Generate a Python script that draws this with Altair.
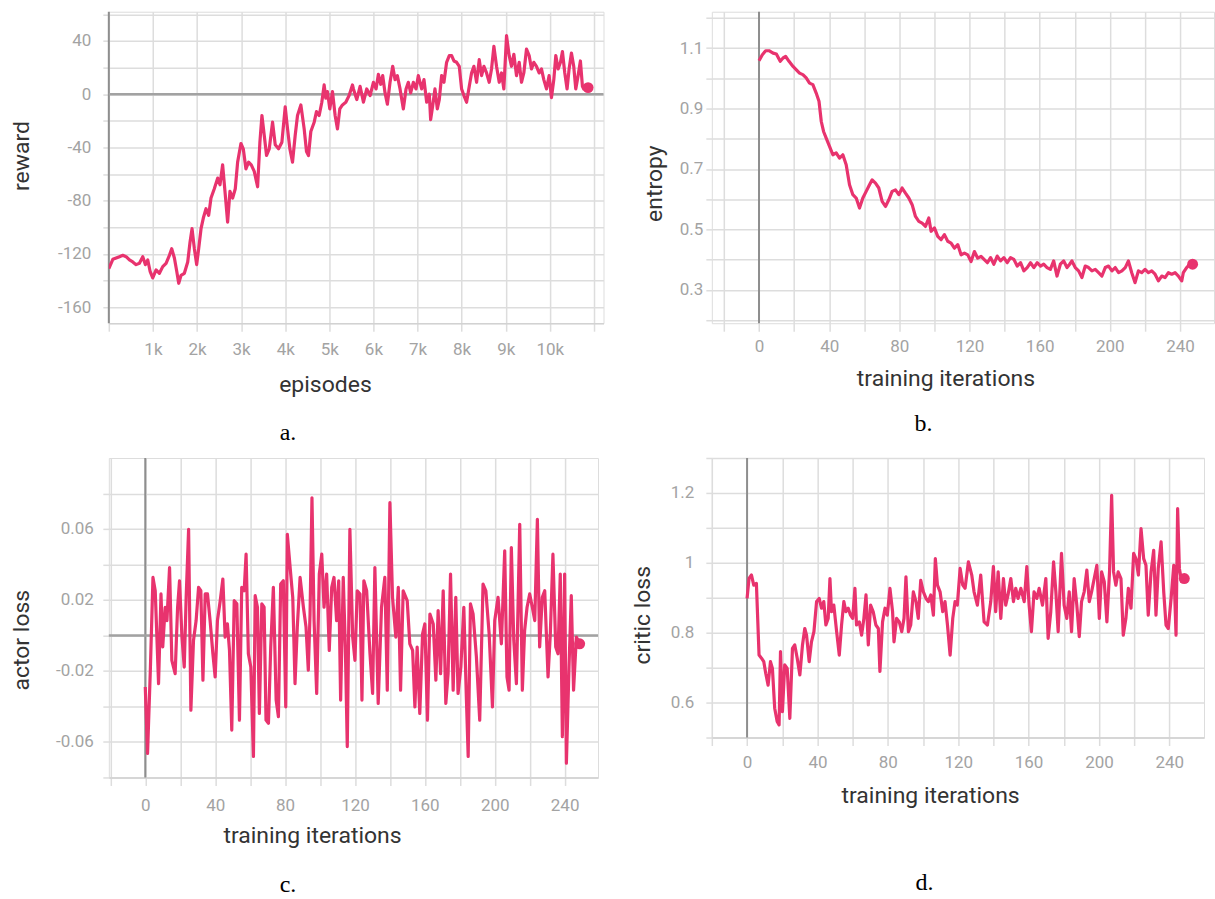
import altair as alt
import pandas as pd

# ---------------- data ----------------
# a. reward vs episodes
episodes = [0, 91, 166, 242, 317, 392, 468, 543, 619, 694, 770, 830, 883, 936, 996, 1072, 1147, 1223, 1298, 1374,
            1426, 1487, 1540, 1585, 1638, 1713, 1789, 1842, 1887, 1940, 1992, 2038, 2091, 2143, 2204, 2264, 2317,
            2392, 2468, 2521, 2581, 2642, 2694, 2747, 2808, 2868, 2921, 2996, 3049, 3109, 3170, 3230, 3298, 3374,
            3426, 3472, 3525, 3577, 3638, 3713, 3774, 3849, 3925, 4000, 4053, 4106, 4166, 4226, 4279, 4355, 4430,
            4483, 4528, 4581, 4657, 4709, 4770, 4830, 4883, 4921, 4958, 5011, 5072, 5132, 5185, 5238, 5298, 5374,
            5449, 5525, 5547, 5623, 5698, 5774, 5849, 5925, 6000, 6060, 6113, 6166, 6211, 6264, 6317, 6377, 6438,
            6491, 6543, 6604, 6679, 6740, 6792, 6845, 6906, 6966, 7019, 7094, 7147, 7208, 7268, 7298, 7343, 7396,
            7449, 7494, 7547, 7600, 7660, 7721, 7774, 7826, 7887, 7947, 8000, 8053, 8113, 8174, 8226, 8279, 8340,
            8400, 8453, 8506, 8566, 8626, 8679, 8732, 8792, 8853, 8906, 8958, 9019, 9079, 9132, 9185, 9245, 9306,
            9358, 9411, 9472, 9532, 9585, 9638, 9698, 9758, 9811, 9864, 9925, 9985, 10038, 10091, 10136, 10189,
            10242, 10287, 10340, 10392, 10438, 10491, 10543, 10589, 10642, 10694, 10740, 10770, 10830, 10868]
reward = [-131, -124, -123, -122, -121, -122, -124.5, -126, -128, -127, -122, -128, -124.5, -133, -138, -132, -134.5,
          -129.5, -127, -121, -116, -123, -133, -142, -136, -134.5, -126, -111, -101, -116, -128, -116, -101, -93,
          -86, -91, -78, -71, -63, -68, -53, -76, -96, -73, -78, -71, -51, -37, -41, -56, -51, -53, -58, -69.5, -36,
          -16, -31, -46, -41, -21, -38, -41, -36, -9.5, -26, -41, -51, -31, -16, -8, -26, -43, -46, -28, -21, -13,
          -16, -6, 7, -3, 2, -11, 2, -16, -26, -11, -8, -6, -1, 7, 4, -4, 6, -6, 4, -1, 9, 4, 15, 7.5, 14, 1, -7.5,
          9, 21, 11, 14, 4, -11, 4, 9, 1, 9, 4, 14, 4, 11, -6, 0, -19, -9, 4, -11, -4, 14, 9, 24, 29, 29, 25, 24,
          21, 4, -1, -6, 6, 16, 21, 9, 26, 14, 21, 16, 9, 19, 36, 21, 9, 16, 4, 44, 29, 21, 30, 14, 24, 9, 16, 34,
          29, 19, 24, 21, 16, 19, 11, 4, 14, -2.5, 11, 29, 19, 24, 32, 16, 4, 19, 31, 21, 4, 14, 25, 6, 4, 6, 5]

# b. entropy vs training iterations
ent_iter = [0, 1.9, 3.8, 5.7, 8, 9.9, 12.1, 13.7, 15.2, 17.1, 19.4, 21.3, 23.1, 25, 26.9, 28.8, 30.7, 32.6, 34.2,
            35.5, 36.8, 38.3, 40.2, 42.1, 44, 45.9, 47.8, 49.7, 51.6, 53.5, 55.4, 57.3, 59.2, 61.1, 63, 64.5, 66.4,
            68.3, 70.2, 72.1, 74, 75.9, 77.8, 79.7, 81.6, 83.5, 85.4, 87.3, 89.2, 91.1, 93, 94.9, 96.8, 98.1, 100,
            101.9, 103.8, 105.7, 107.6, 109.5, 111.4, 113.3, 115.2, 117.1, 119, 120.9, 122.8, 124.7, 126.6, 128.3,
            130.2, 132, 133.9, 135.8, 137.7, 139.6, 141.5, 143.4, 145.3, 147.2, 149.1, 151, 152.9, 154.8, 156.7,
            158.6, 160.5, 162.3, 164.2, 166.1, 168, 169.9, 171.8, 173.7, 175.6, 177.1, 178.4, 180.3, 182.2, 184.1,
            186, 187.9, 189.8, 191.7, 193.6, 195.5, 197.4, 199.3, 201.2, 203.1, 205, 206.9, 208.8, 210.6, 212.5,
            214.4, 216.3, 218.2, 220.1, 222, 223.9, 225.8, 227.7, 229.6, 231.5, 233.4, 235.3, 237.2, 239.1, 241,
            241.9, 243.8, 245.7, 247.2]
entropy = [1.058, 1.078, 1.091, 1.091, 1.083, 1.080, 1.056, 1.067, 1.072, 1.056, 1.039, 1.028, 1.017, 1.012, 1.001,
           0.984, 0.979, 0.951, 0.924, 0.857, 0.824, 0.802, 0.775, 0.747, 0.753, 0.736, 0.747, 0.714, 0.648, 0.615,
           0.604, 0.571, 0.604, 0.626, 0.648, 0.664, 0.653, 0.637, 0.593, 0.576, 0.598, 0.626, 0.631, 0.615, 0.637,
           0.620, 0.604, 0.582, 0.543, 0.527, 0.521, 0.510, 0.538, 0.494, 0.505, 0.477, 0.466, 0.483, 0.461, 0.455,
           0.438, 0.450, 0.416, 0.422, 0.416, 0.394, 0.427, 0.405, 0.411, 0.401, 0.390, 0.407, 0.385, 0.412, 0.396,
           0.407, 0.390, 0.407, 0.401, 0.379, 0.390, 0.363, 0.374, 0.390, 0.374, 0.390, 0.379, 0.385, 0.374, 0.368,
           0.396, 0.346, 0.385, 0.396, 0.374, 0.385, 0.396, 0.374, 0.363, 0.341, 0.379, 0.374, 0.363, 0.368, 0.357,
           0.346, 0.374, 0.379, 0.363, 0.374, 0.357, 0.363, 0.374, 0.396, 0.357, 0.324, 0.363, 0.357, 0.368, 0.357,
           0.363, 0.352, 0.330, 0.346, 0.341, 0.357, 0.352, 0.357, 0.346, 0.330, 0.357, 0.374, 0.385, 0.385]

# c. actor loss vs training iterations
act_iter = [0, 1.3, 2.9, 4.4, 5.7, 7.6, 9, 10, 11.4, 12.4, 13.9, 15.2, 17.1, 18.5, 19.6, 21, 22.3, 23.4, 24.8, 26.1,
            27.6, 29.1, 30.5, 31.8, 33, 34.3, 35.6, 37.1, 38.7, 40, 41.3, 42.9, 44.4, 45.7, 47, 48.2, 49.5, 50.9,
            52.4, 53.9, 55.2, 56.6, 57.7, 59, 60.4, 61.9, 62.9, 64.2, 65.3, 66.7, 68, 69.1, 70.5, 71.8, 73.3, 74.9,
            76.2, 77.5, 79, 80.4, 81.3, 82.9, 84.4, 85.7, 87, 88.6, 90.5, 92, 93.3, 94.3, 95.4, 96.6, 98.1, 99.6,
            101, 102.3, 103.8, 105.3, 106.7, 108, 109.5, 110.7, 111.8, 113.3, 114.5, 115.6, 117.1, 118.7, 120, 121.3,
            122.9, 124, 125.1, 126.7, 128.6, 130.1, 131.4, 133.3, 135.2, 137.1, 138.5, 140, 141.5, 143.4, 144.8,
            146.1, 147.6, 149.9, 151.4, 153, 154.3, 155.6, 157.1, 158.7, 160, 161.5, 162.9, 164.8, 166.3, 167.6, 169,
            170.5, 172, 173.3, 174.7, 176.2, 177.7, 179, 180.6, 182.3, 183.8, 184.8, 186.1, 187.6, 189.5, 191.4,
            193.3, 194.9, 196.8, 198.7, 200, 201.9, 203.8, 205.7, 207, 208.2, 209.5, 210.9, 212.4, 214.3, 215.8,
            217.1, 218.5, 220, 221.5, 222.9, 224.4, 225.7, 227.2, 228.6, 230.5, 231.8, 233.3, 234.9, 236.2, 237.5,
            238.7, 240, 241, 242.5, 243.8, 245.1, 246.7, 248.6]
actor_loss = [-0.0290, -0.0664, -0.0196, 0.0327, 0.0252, -0.0271, 0.0234, -0.0065, 0.0159, 0.0084, 0.0383, -0.0140,
              -0.0215, 0.0159, 0.0308, -0.0009, -0.0178, 0.0215, 0.0598, -0.0421, -0.0028, 0.0084, 0.0271, 0.0252,
              -0.0252, 0.0234, 0.0234, 0.0084, -0.0103, -0.0234, 0.0084, 0.0196, 0.0318, -0.0009, 0.0065, -0.0084,
              -0.0533, 0.0196, 0.0178, -0.0477, 0.0271, 0.0252, 0.0458, -0.0103, -0.0178, -0.0682, 0.0224, 0.0159,
              -0.0439, 0.0178, 0.0159, -0.0477, -0.0495, -0.0065, 0.0271, -0.0364, -0.0458, 0.0290, 0.0308, -0.0402,
              0.0570, 0.0383, 0.0215, -0.0271, 0.0047, 0.0327, 0.0159, 0.0047, -0.0196, 0.0121, 0.0776, 0.0084,
              -0.0327, 0.0346, 0.0458, 0.0159, 0.0346, -0.0084, 0.0271, 0.0327, 0.0084, 0.0308, -0.0364, 0.0327,
              -0.0065, -0.0626, 0.0598, -0.0009, -0.0140, 0.0252, 0.0234, -0.0364, 0.0308, 0.0252, -0.0103, -0.0327,
              0.0383, -0.0383, 0.0159, 0.0327, -0.0308, 0.0748, 0.0215, -0.0009, 0.0271, -0.0308, 0.0252, 0.0196,
              -0.0047, -0.0084, -0.0402, -0.0065, -0.0439, 0.0009, 0.0065, -0.0477, 0.0121, 0.0065, -0.0252, 0.0140,
              -0.0215, 0.0252, -0.0383, -0.0215, 0.0346, -0.0308, 0.0215, -0.0327, -0.0178, 0.0159, -0.0364, -0.0682,
              0.0178, 0.0121, -0.0121, -0.0477, 0.0290, 0.0252, 0.0009, -0.0402, 0.0084, 0.0215, -0.0047, 0.0477,
              -0.0234, -0.0308, 0.0495, -0.0028, -0.0271, 0.0626, -0.0308, 0.0028, 0.0159, 0.0234, 0.0159, 0.0084,
              0.0654, -0.0065, 0.0215, 0.0252, -0.0234, 0.0009, 0.0458, -0.0065, -0.0103, 0.0346, -0.0570, 0.0346,
              -0.0720, -0.0178, 0.0224, -0.0308, -0.0009, -0.0047]

# d. critic loss vs training iterations
crit_iter = [0, 1.1, 2.5, 3.8, 5.3, 6.8, 8.2, 9.5, 10.6, 11.95, 13.3, 14.4, 15.7, 17.1, 18.2, 19, 20.1, 21.4, 22.8,
             24.3, 25.8, 27.1, 28.5, 30, 31.5, 32.8, 33.8, 35.3, 36.6, 38, 39.5, 41, 42.3, 43.6, 44.8, 46.1, 47.1, 48,
             49.3, 50.9, 52.4, 53.7, 55, 56.2, 57.5, 58.8, 60, 61.3, 62.2, 63.8, 65.1, 66.4, 67.6, 68.9, 70.2, 71.7,
             73.2, 74.6, 75.5, 77, 78.4, 79.7, 81.2, 82.7, 83.5, 85, 86.5, 87.9, 89.2, 90.3, 91.7, 93, 94.5, 96, 97.3,
             98.7, 100.2, 101.7, 103, 104.4, 105.9, 107, 108.2, 109.7, 111.2, 112.5, 113.9, 115.4, 116.9, 118.2,
             119.5, 121.1, 122.6, 123.9, 125.8, 127.7, 129, 130.9, 132.8, 134.7, 136.6, 138.5, 140, 141.3, 142.7,
             144.2, 145.7, 147, 148.3, 149.9, 151.4, 152.7, 154, 155.6, 157.5, 159, 160.3, 161.6, 163.1, 164.7, 166,
             167.9, 169.8, 171.1, 172.6, 174.2, 175.5, 176.8, 178.7, 180.2, 181.7, 183.1, 184.4, 185.9, 187.4, 188.8,
             190.1, 191.6, 193.1, 194.5, 195.8, 197.3, 198.8, 200.2, 201.5, 203, 204.5, 206, 207.2, 208.3, 209.6,
             210.9, 212.5, 213.8, 215.3, 216.7, 218.2, 219.7, 221, 222.4, 223.9, 225.4, 226.7, 228, 229.6, 231.1,
             232.4, 233.7, 235.3, 236.8, 238.1, 239.4, 241, 242.5, 243.8, 244.7, 245.7, 247, 248.5]
critic_loss = [0.898, 0.955, 0.965, 0.936, 0.941, 0.736, 0.727, 0.717, 0.684, 0.65, 0.717, 0.698, 0.584, 0.546, 0.536,
               0.746, 0.574, 0.708, 0.698, 0.555, 0.755, 0.765, 0.727, 0.679, 0.765, 0.812, 0.793, 0.717, 0.774,
               0.803, 0.889, 0.898, 0.870, 0.889, 0.822, 0.841, 0.955, 0.860, 0.879, 0.803, 0.736, 0.822, 0.889,
               0.860, 0.870, 0.850, 0.841, 0.927, 0.822, 0.831, 0.793, 0.841, 0.908, 0.765, 0.879, 0.860, 0.822,
               0.812, 0.689, 0.831, 0.870, 0.850, 0.927, 0.860, 0.774, 0.841, 0.831, 0.803, 0.841, 0.960, 0.803,
               0.822, 0.917, 0.889, 0.841, 0.950, 0.917, 0.898, 0.889, 0.908, 0.850, 1.012, 0.936, 0.917, 0.860,
               0.889, 0.822, 0.736, 0.841, 0.889, 0.879, 0.984, 0.936, 0.927, 1.003, 0.965, 0.917, 0.879, 0.965,
               0.831, 0.822, 0.889, 0.989, 0.860, 0.974, 0.841, 0.955, 0.879, 0.908, 0.955, 0.889, 0.927, 0.898,
               0.927, 0.889, 0.989, 0.879, 0.803, 0.917, 0.898, 0.927, 0.879, 0.955, 0.784, 0.860, 1.003, 0.917,
               0.803, 1.027, 0.879, 0.841, 0.917, 0.803, 0.955, 0.879, 0.789, 0.889, 0.917, 0.979, 0.889, 0.917,
               0.955, 0.993, 0.841, 0.974, 0.946, 0.831, 0.974, 1.193, 0.974, 0.936, 0.974, 0.955, 0.793, 0.841,
               0.927, 0.870, 1.027, 1.012, 0.965, 1.098, 1.012, 0.993, 0.850, 0.974, 1.036, 0.850, 0.984, 1.060,
               0.917, 0.822, 0.812, 0.898, 0.993, 0.793, 1.155, 0.984, 0.946, 0.955]

# ---------------- styling ----------------
PINK = "#e8336e"
GRID = "#dddddd"
FONT = "Roboto"
LABEL_C = "#a3a3a3"
TITLE_C = "#333333"


def panel(xs, ys, xdom, ydom, xvals, yvals, xexpr, yexpr, xtitle, ytitle, w, h,
          xtpos, ytpos, ylabpad, xlabpad, caption, cappos, hzero=False, xdomain_line=True, anchor=False):
    df = pd.DataFrame({"x": xs, "y": ys})
    xscale = alt.Scale(domain=xdom, nice=False, zero=False)
    yscale = alt.Scale(domain=ydom, nice=False, zero=False)
    xaxis = alt.Axis(values=xvals, labelExpr=xexpr, title=xtitle, titleX=xtpos[0], titleY=xtpos[1],
                     titleBaseline="middle", titleAlign="center", titleFont=FONT, titleFontSize=23,
                     titleFontWeight="normal", titleColor=TITLE_C, labelFont=FONT, labelFontSize=17,
                     labelColor=LABEL_C, labelBaseline="middle", labelPadding=xlabpad, labelFlush=False,
                     labelOverlap=False, tickSize=8, tickColor=GRID, tickWidth=1.5, gridColor=GRID,
                     gridWidth=1.5, domain=xdomain_line, domainColor="#d2d2d2", domainWidth=1.5)
    yaxis = alt.Axis(values=yvals, labelExpr=yexpr, title=ytitle, titleX=ytpos[0], titleY=ytpos[1],
                     titleAngle=270, titleBaseline="middle", titleAlign="center", titleFont=FONT,
                     titleFontSize=23, titleFontWeight="normal", titleColor=TITLE_C, labelFont=FONT,
                     labelFontSize=17, labelColor=LABEL_C, labelPadding=ylabpad, labelFlush=False,
                     labelOverlap=False, tickSize=6, tickColor=GRID, tickWidth=1.5, gridColor=GRID,
                     gridWidth=1.5, domain=False)
    xenc = alt.X("x:Q", scale=xscale, axis=xaxis)
    yenc = alt.Y("y:Q", scale=yscale, axis=yaxis)

    layers = []
    vr = alt.Chart(pd.DataFrame({"x": [0]})).mark_rule(color="#8e8e8e", strokeWidth=2).encode(x=xenc)
    layers.append(vr)
    if hzero:
        hr = alt.Chart(pd.DataFrame({"y": [0]})).mark_rule(color="#a2a2a2", strokeWidth=2.5).encode(y=yenc)
        layers.append(hr)
    line = alt.Chart(df).mark_line(color=PINK, strokeWidth=3.2, strokeJoin="round", clip=True).encode(
        x=xenc, y=yenc)
    layers.append(line)
    end = alt.Chart(df.tail(1)).mark_circle(color=PINK, size=120, opacity=1).encode(x=xenc, y=yenc)
    layers.append(end)
    cap = alt.Chart(pd.DataFrame({"t": [caption]})).mark_text(
        font="Liberation Serif", fontSize=24, color="#000000", align="center", baseline="middle").encode(
        text="t:N", x=alt.value(cappos[0]), y=alt.value(cappos[1]))
    layers.append(cap)
    if anchor:
        # transparent marker fixing the page's top-left corner
        anc = alt.Chart(pd.DataFrame({"t": [0]})).mark_rule(strokeOpacity=0, strokeWidth=0).encode(
            x=alt.value(-108.5), y=alt.value(-10), y2=alt.value(0))
        layers.append(anc)
    return alt.layer(*layers).properties(width=w, height=h)


iter_lbl = "datum.value >= 0 && datum.value % 40 == 0 ? '' + datum.value : ''"

pa = panel(episodes, reward, [0, 11218], [-172, 62],
           list(range(0, 11001, 1000)), list(range(-160, 61, 20)),
           "datum.value >= 1000 && datum.value <= 10000 ? (datum.value / 1000) + 'k' : ''",
           "datum.value % 40 == 0 ? '' + datum.value : ''",
           "episodes", "reward", 495.5, 312, (216.5, 61), (-87, 144), 12, 18,
           "a.", (179.5, 422), hzero=True, anchor=True)

pb = panel(ent_iter, entropy, [-26.9, 259.4], [0.190, 1.220],
           list(range(-20, 260, 20)), [0.2, 0.3, 0.4, 0.5, 0.6, 0.7, 0.8, 0.9, 1.0, 1.1, 1.2],
           iter_lbl, "round(datum.value * 10) % 2 == 1 ? '' + datum.value : ''",
           "training iterations", "entropy", 503, 312, (234, 55), (-57.6, 171.7), 3, 15,
           "b.", (212, 413), xdomain_line=False)

pc = panel(act_iter, actor_loss, [-20.86, 259.1], [-0.08, 0.1],
           list(range(-20, 250, 20)), [-0.08, -0.06, -0.04, -0.02, 0, 0.02, 0.04, 0.06, 0.08],
           iter_lbl, "abs(round(datum.value * 100)) % 4 == 2 ? '' + datum.value : ''",
           "training iterations", "actor loss", 490, 320, (203.5, 58), (-87, 182), 9.5, 20,
           "c.", (179.5, 428), hzero=True)

pd_ = panel(crit_iter, critic_loss, [-20.03, 259.7], [0.5, 1.3],
            list(range(-20, 259, 20)), [0.5, 0.6, 0.7, 0.8, 0.9, 1.0, 1.1, 1.2, 1.3],
            iter_lbl, "round(datum.value * 10) % 2 == 0 ? '' + datum.value : ''",
            "training iterations", "critic loss", 493, 280, (218.6, 58), (-69.6, 157), 12, 17,
            "d.", (213, 426))

chart = alt.concat(pa, pb, pc, pd_, columns=2, spacing={"row": 135, "column": 108}, bounds="flush").properties(
    padding={"left": 0, "top": 0, "right": 0, "bottom": 0}
).configure_view(stroke=None).configure(background="white")

chart.save("out.html", embed_options={"renderer": "svg", "actions": False})
